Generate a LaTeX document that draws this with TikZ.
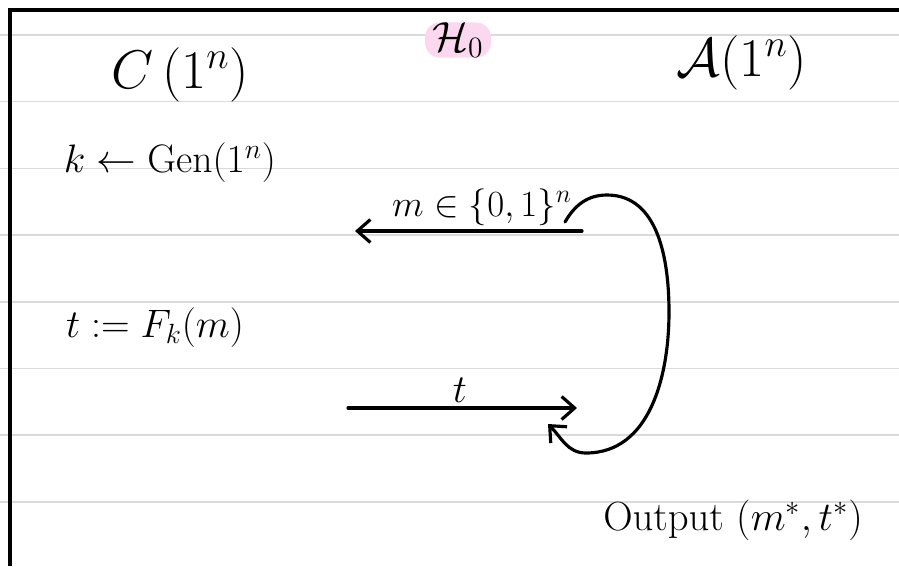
\documentclass[tikz,border=0pt]{standalone}
\usepackage{fix-cm}
\usepackage{amsmath}
\usepackage{amssymb}
\usepackage{tikz}
\usetikzlibrary{arrows.meta}
\usepackage{xcolor}
\definecolor{hlpink}{RGB}{251,216,239}
\definecolor{rulegray}{RGB}{218,218,218}

\begin{document}
\begin{tikzpicture}[
    x=0.02cm, y=-0.02cm,
    bigtxt/.style={font=\fontsize{31}{35}\selectfont, inner sep=0pt},
    txt/.style={font=\fontsize{22.6}{26}\selectfont, inner sep=0pt},
    hlnode/.style={fill=hlpink, rounded corners=0.3cm, minimum width=1.32cm,
      minimum height=0.7cm, inner sep=0pt, font=\fontsize{24}{28}\selectfont},
    msg/.style={line width=1.8pt, line cap=round,
      -{Straight Barb[length=2.6mm, width=4.6mm]}},
  ]

  \def\dy{66.7}

  \useasboundingbox (0,0) rectangle (899,566);

  % --- ruled lines ---
  \foreach \i in {0,...,7} {
    \draw[rulegray, line width=0.9pt] (0,{35+\i*\dy}) -- (899,{35+\i*\dy});
  }

  % --- frame ---
  \draw[line width=1.8pt] (10,566) -- (10,10) -- (899,10);

  % --- parties and header ---
  \node[bigtxt] (chal) at (180,75) {$C\,(1^n)$};
  \node[hlnode] (hyb) at (458,40) {$\mathcal{H}_0$};
  \node[bigtxt] (adv) at (742,63) {$\mathcal{A}(1^n)$};

  % --- challenger side ---
  \node[txt] (gen) at (170,163) {$k \leftarrow \mathrm{Gen}(1^n)$};
  \node[txt] (tag) at (155,328) {$t := F_k(m)$};

  % --- messages ---
  \node[txt, font=\fontsize{21}{25}\selectfont] (mlbl) at (482,207) {$m \in \{0,1\}^n$};
  \node[txt] (tlbl) at (460,390) {$t$};
  \node[txt, font=\fontsize{23.2}{27}\selectfont] (out) at (733,520) {$\mathrm{Output}\ (m^*, t^*)$};

  \coordinate (mA) at (582,231);
  \coordinate (mC) at (355,231);
  \coordinate (tC) at (348,408);
  \coordinate (tA) at (577,408);
  \coordinate (loopS) at (565,222);
  \coordinate (loopE) at (548,424);

  % --- connectors ---
  \draw[msg] (mA) -- (mC);
  \draw[msg] (tC) -- (tA);
  \draw[msg] (loopS) to[out=60,in=180] (607,195) to[out=0,in=90] (669,312)
    to[out=-90,in=0] (586,453) to[out=180,in=-45] (loopE);

\end{tikzpicture}
\end{document}
